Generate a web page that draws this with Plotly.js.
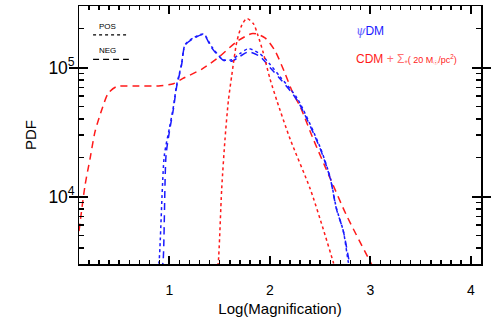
<!DOCTYPE html>
<html>
<head>
<meta charset="utf-8">
<script src="https://cdn.plot.ly/plotly-3.0.1.min.js"></script>
<style>
  html, body { margin: 0; padding: 0; background: #fff; }
  #pdf-plot { width: 491px; height: 327px; }
</style>
</head>
<body>
<div id="pdf-plot"></div>
<script>
// psiDM, positive and negative parity
var psiPosX = [0.88, 0.896, 0.949, 1.0, 1.04, 1.07, 1.12, 1.155, 1.24, 1.34, 1.42, 1.536, 1.62, 1.70, 1.785, 1.9, 2.0, 2.1, 2.27, 2.5, 2.6, 2.66, 2.73, 2.78, 2.80];
var psiPosY = [2.7e3, 3.1e3, 2.08e4, 3.4e4, 5.0e4, 7.2e4, 1.06e5, 1.5e5, 1.7e5, 1.82e5, 1.45e5, 1.15e5, 1.15e5, 1.28e5, 1.4e5, 1.28e5, 1.06e5, 8.5e4, 5.8e4, 2.4e4, 1.4e4, 8.2e3, 5.4e3, 3.1e3, 2.7e3];

var psiNegX = [0.92, 0.936, 0.966, 1.0, 1.04, 1.07, 1.12, 1.155, 1.24, 1.34, 1.42, 1.536, 1.62, 1.70, 1.785, 1.9, 2.0, 2.1, 2.27, 2.5, 2.6, 2.66, 2.73, 2.79, 2.81];
var psiNegY = [2.7e3, 3.1e3, 2.08e4, 3.2e4, 4.8e4, 7.0e4, 1.04e5, 1.49e5, 1.68e5, 1.8e5, 1.42e5, 1.14e5, 1.12e5, 1.22e5, 1.32e5, 1.22e5, 1.0e5, 8.2e4, 5.6e4, 2.35e4, 1.38e4, 8.1e3, 5.4e3, 3.1e3, 2.7e3];

// CDM + stars (20 Msun/pc^2)
var cdmPosX = [1.47, 1.486, 1.52, 1.553, 1.586, 1.62, 1.67, 1.72, 1.77, 1.835, 1.88, 1.93, 2.0, 2.07, 2.2, 2.4, 2.53, 2.63, 2.66];
var cdmPosY = [2.6e3, 3.1e3, 1.15e4, 2.8e4, 5.5e4, 8.7e4, 1.58e5, 2.13e5, 2.4e5, 2.19e5, 1.78e5, 1.33e5, 8.2e4, 5.5e4, 2.8e4, 1.15e4, 5.6e3, 3.1e3, 2.6e3];

var cdmNegX = [0.1, 0.16, 0.21, 0.26, 0.33, 0.39, 0.47, 0.64, 0.89, 1.04, 1.13, 1.33, 1.5, 1.67, 1.83, 1.95, 2.05, 2.15, 2.23, 2.3, 2.43, 2.6, 2.76, 3.0, 3.05];
var cdmNegY = [5.4e3, 1.22e4, 1.97e4, 3.2e4, 4.8e4, 6.3e4, 7.1e4, 7.2e4, 7.2e4, 7.5e4, 8.2e4, 9.8e4, 1.22e5, 1.59e5, 1.84e5, 1.7e5, 1.35e5, 9.0e4, 6.3e4, 5.0e4, 2.8e4, 1.38e4, 7.2e3, 3.1e3, 2.6e3];

var xTickVals = [1, 2, 3, 4];

var xRange = [0.1, 4.1];
var yRange = [Math.log10(3e3), Math.log10(3e5)];
var red = '#ff1a1a';
var blue = '#1a1aff';

function line(x, y, color, dash, xaxis, yaxis) {
  return {
    x: x, y: y, type: 'scatter', mode: 'lines', xaxis: xaxis, yaxis: yaxis,
    line: { color: color, width: 1.5, dash: dash, shape: 'spline', smoothing: 0.7 },
    hoverinfo: 'skip', showlegend: false
  };
}

function drawPdfPlot() {
  var plotData = [
    line(cdmNegX, cdmNegY, red, '7px,5px', 'x', 'y'),
    line(cdmPosX, cdmPosY, red, 'dot', 'x3', 'y'),
    line(psiPosX, psiPosY, blue, 'dot', 'x2', 'y2'),
    line(psiNegX, psiNegY, blue, '7px,5px', 'x2', 'y2')
  ];

  var family = 'Liberation Sans, Arial, sans-serif';

  var layout = {
    width: 491,
    height: 327,
    margin: { l: 79, r: 10, t: 6, b: 63 },
    font: { family: family, size: 14, color: '#000' },
    // frame with major inside ticks
    xaxis: {
      range: xRange,
      tick0: 0, dtick: 1,
      showticklabels: false,
      ticks: 'inside', ticklen: 8, tickwidth: 2, tickcolor: '#000',
      showline: true, linecolor: '#000', linewidth: 1.5, mirror: 'allticks',
      showgrid: false, zeroline: false
    },
    // tick labels, pushed down by invisible outside ticks
    xaxis2: {
      overlaying: 'x', anchor: 'y', side: 'bottom',
      range: xRange,
      tickvals: xTickVals,
      ticks: 'outside', ticklen: 13, tickcolor: 'rgba(0,0,0,0)',
      showline: false, showgrid: false, zeroline: false,
      tickfont: { size: 14 },
      title: { text: 'Log(Magnification)', font: { size: 15 }, standoff: 6 }
    },
    // minor ticks
    xaxis3: {
      overlaying: 'x', anchor: 'y', side: 'bottom',
      range: xRange,
      tick0: 0, dtick: 0.1,
      showticklabels: false,
      ticks: 'inside', ticklen: 4, tickwidth: 1.5, tickcolor: '#000',
      showline: true, linecolor: '#000', linewidth: 1.5, mirror: 'allticks',
      showgrid: false, zeroline: false
    },
    yaxis: {
      type: 'log',
      range: yRange,
      dtick: 1, exponentformat: 'power',
      ticks: 'inside', ticklen: 9, tickwidth: 2, tickcolor: '#000',
      showline: true, linecolor: '#000', linewidth: 1.5, mirror: 'allticks',
      showgrid: false, zeroline: false,
      tickfont: { size: 14 },
      title: { text: 'PDF', font: { size: 15 }, standoff: 8 }
    },
    yaxis2: {
      overlaying: 'y', anchor: 'x', side: 'left',
      type: 'log',
      range: yRange,
      dtick: 'D1',
      showticklabels: false,
      ticks: 'inside', ticklen: 5, tickwidth: 1.5, tickcolor: '#000',
      showline: true, linecolor: '#000', linewidth: 1.5, mirror: 'allticks',
      showgrid: false, zeroline: false
    },
    shapes: [
      { type: 'line', xref: 'paper', yref: 'paper', x0: 0.035, x1: 0.124, y0: 0.888, y1: 0.888,
        line: { color: '#000', width: 1.2, dash: 'dot' } },
      { type: 'line', xref: 'paper', yref: 'paper', x0: 0.035, x1: 0.124, y0: 0.793, y1: 0.793,
        line: { color: '#000', width: 1.4, dash: '6px,4px' } }
    ],
    annotations: [
      { xref: 'paper', yref: 'paper', x: 0.072, y: 0.919, xanchor: 'center', yanchor: 'middle',
        text: 'POS', showarrow: false, font: { size: 8 } },
      { xref: 'paper', yref: 'paper', x: 0.072, y: 0.827, xanchor: 'center', yanchor: 'middle',
        text: 'NEG', showarrow: false, font: { size: 8 } },
      { xref: 'paper', yref: 'paper', x: 0.685, y: 0.903, xanchor: 'left', yanchor: 'middle', showarrow: false,
        text: '<span style="font-family:DejaVu Serif;font-style:italic;color:#6a6aff">&#968;</span>DM',
        font: { size: 12, color: blue } },
      { xref: 'paper', yref: 'paper', x: 0.685, y: 0.791, xanchor: 'left', yanchor: 'middle', showarrow: false,
        text: 'CDM<span style="color:#ff7070"> + &#931;<sub>*</sub></span><span style="font-size:9px">( 20 M<sub>&#9737;</sub>/pc<sup>2</sup>)</span>',
        font: { size: 12, color: red } }
    ]
  };

  Plotly.newPlot('pdf-plot', plotData, layout, { staticPlot: true });
}

document.addEventListener('DOMContentLoaded', drawPdfPlot);
</script>
</body>
</html>
